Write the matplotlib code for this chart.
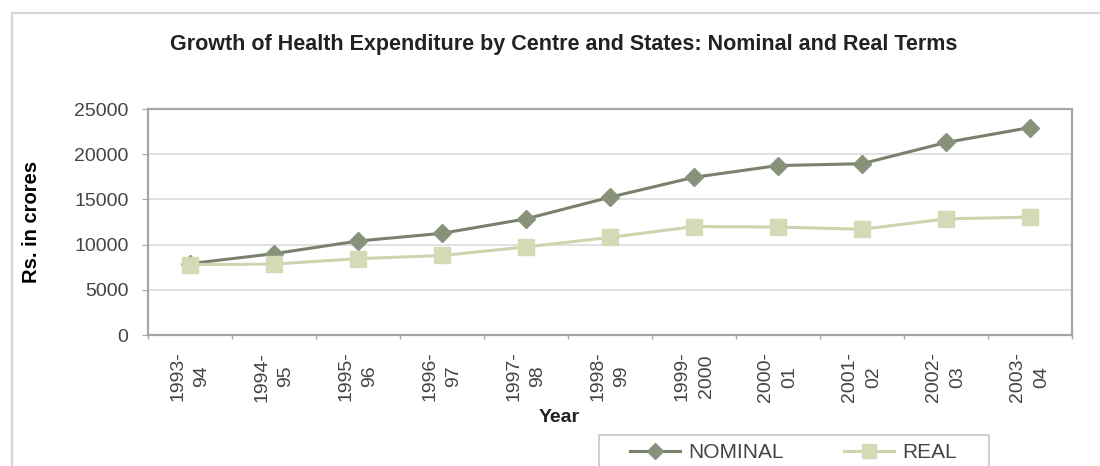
import numpy as np
import matplotlib.pyplot as plt
from matplotlib.lines import Line2D
from matplotlib.patches import Rectangle

plt.rcParams['font.family'] = ['Liberation Sans', 'DejaVu Sans']

# Ausgaben Zentrum + Staaten (Rs. in crores)
jahre = ['1993-\n94', '1994-\n95', '1995-\n96', '1996-\n97', '1997-\n98', '1998-\n99',
         '1999-\n2000', '2000-\n01', '2001-\n02', '2002-\n03', '2003-\n04']
nominal = [7900, 9000, 10400, 11250, 12850, 15250, 17450, 18750, 18950, 21300, 22950]
real = [7800, 7850, 8450, 8800, 9750, 10800, 12000, 11950, 11700, 12850, 13050]

farbe_nom_linie = '#78816c'
farbe_nom_marker = '#88917a'
farbe_real_linie = '#cfd3ae'
farbe_real_marker = '#d5d9b6'

fig = plt.figure(figsize=(11, 4.66), dpi=100)
ax = fig.add_axes([0.1345, 0.281, 0.84, 0.485])

x = np.arange(len(jahre))
ax.plot(x, nominal, color=farbe_nom_linie, lw=2.2, marker='D', ms=9,
        mfc=farbe_nom_marker, mec=farbe_nom_marker, zorder=3)
ax.plot(x, real, color=farbe_real_linie, lw=2.2, marker='s', ms=11,
        mfc=farbe_real_marker, mec=farbe_real_marker, zorder=4)

ax.set_xlim(-0.5, len(jahre) - 0.5)
ax.set_ylim(0, 25000)
ax.set_yticks(np.arange(0, 25001, 5000))
ax.grid(axis='y', color='#dcdcdc', lw=1.2)
ax.set_axisbelow(True)

for s in ax.spines.values():
    s.set_color('#a6a6a6')
    s.set_linewidth(1.6)

ax.set_xticks(x)
ax.set_xticklabels(jahre, rotation=90, va='top', ha='center', multialignment='center',
                   fontsize=14, color='#444444', linespacing=1.55)
ax.set_xticks(np.arange(-0.5, len(jahre), 1.0), minor=True)
ax.tick_params(axis='x', which='major', length=0, pad=12)
ax.tick_params(axis='x', which='minor', length=3, color='#a6a6a6', width=1)
ax.tick_params(axis='y', length=4, color='#a6a6a6', labelsize=14, labelcolor='#444444', pad=10)

ax.set_ylabel('Rs. in crores', fontsize=14.5, fontweight='bold', labelpad=24)

fig.text(559/1100, 1 - 418/466, 'Year', ha='center', va='center',
         fontsize=14, fontweight='bold', color='#222222')
fig.text(0.512, 0.905, 'Growth of Health Expenditure by Centre and States: Nominal and Real Terms',
         ha='center', va='center', fontsize=15.5, fontweight='bold', color='#222222')

# Rahmen des Diagrammbereichs (oben + links)
fig.add_artist(Line2D([12/1100, 12/1100], [0, 1 - 13/466], color='#d6d6d6', lw=1.6))
fig.add_artist(Line2D([12/1100, 1], [1 - 13/466, 1 - 13/466], color='#d6d6d6', lw=1.6))

# Legende
fig.add_artist(Rectangle((599/1100, -0.1), 390/1100, 0.1 + 1 - 435/466,
                         transform=fig.transFigure, fill=False, ec='#c8c8c8', lw=1.2))
handles = [Line2D([], [], color=farbe_nom_linie, lw=2.2, marker='D', ms=8,
                  mfc=farbe_nom_marker, mec=farbe_nom_marker),
           Line2D([], [], color=farbe_real_linie, lw=2.2, marker='s', ms=10,
                  mfc=farbe_real_marker, mec=farbe_real_marker)]
fig.legend(handles, ['NOMINAL', 'REAL'], loc='center left',
           bbox_to_anchor=(630/1100, 1 - 453/466), ncol=2, frameon=False,
           fontsize=15, handlelength=2.4, handletextpad=0.4, columnspacing=2.9,
           labelcolor='#444444', borderaxespad=0, borderpad=0)

fig.savefig('out.png', dpi=100, facecolor='white')
